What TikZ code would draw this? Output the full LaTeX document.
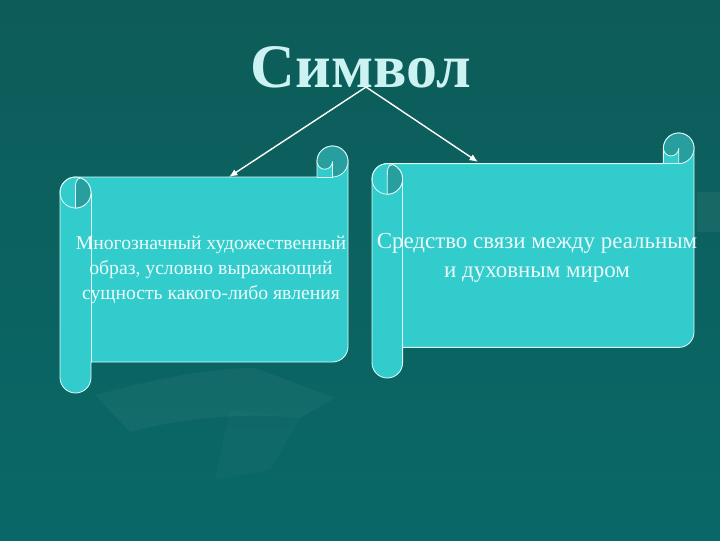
\documentclass[tikz,border=0pt]{standalone}
\usepackage{fontspec}
\setmainfont{Liberation Serif}
\usetikzlibrary{positioning}
\usetikzlibrary{arrows.meta}

\definecolor{slidetop}{RGB}{13,92,89}
\definecolor{slidebottom}{RGB}{9,104,103}
\definecolor{scrollfill}{RGB}{51,204,204}
\definecolor{scrollcurl}{RGB}{40,158,158}
\definecolor{scrollline}{RGB}{222,250,250}
\definecolor{titlecolor}{RGB}{205,242,242}

% scroll in pixel units: #1 left, #2 top, #3 right, #4 bottom, #5 roll width
\newcommand{\drawscroll}[5]{%
  \draw [scrollborder, fill=scrollfill]
    (#1,{#2+1.5*#5}) arc [start angle=180, delta angle=90, radius={#5/2}]
    -- ({#3-#5},{#2+#5}) -- ({#3-#5},{#2+#5/2})
    arc [start angle=180, delta angle=180, radius={#5/2}]
    -- (#3,{#4-1.5*#5})
    arc [start angle=0, delta angle=90, radius={#5/2}]
    -- ({#1+#5},{#4-#5}) -- ({#1+#5},{#4-#5/2})
    arc [start angle=0, delta angle=180, radius={#5/2}]
    -- cycle;
  % right curl
  \draw [scrollborder, fill=scrollcurl] ({#3-#5/2},{#2+#5})
    arc [start angle=90, delta angle=-270, radius={#5/2}]
    arc [start angle=180, delta angle=-180, radius={#5/4}] -- cycle;
  \draw [scrollborder] ({#3-#5},{#2+#5}) -- ({#3-#5/2},{#2+#5});
  % left curl
  \draw [scrollborder] ({#1+#5/2},{#2+1.5*#5}) circle [radius={#5/2}];
  \draw [scrollborder, fill=scrollcurl] ({#1+#5/2},{#2+2*#5})
    arc [start angle=90, delta angle=-160, radius={#5/2}]
    .. controls ({#1+#5/2},{#2+1.05*#5}) and ({#1+#5/2},{#2+1.2*#5}) .. ({#1+#5/2},{#2+1.4*#5})
    -- cycle;
  \draw [scrollborder] ({#1+#5},{#2+1.5*#5}) -- ({#1+#5},{#4-#5});
}

\begin{document}
\begin{tikzpicture}[x=0.025cm, y=-0.025cm, line width=0.6pt,
    scrollborder/.style={draw=scrollline, line width=0.6pt},
    scrolltext/.style={align=center, text=white!90!scrollfill, inner sep=0pt},
    link/.style={draw=white, line width=1pt, -{Latex[length=6pt, width=5pt]}}]
    \useasboundingbox (0,0) rectangle (720,540);

    % Background
    \shade [top color=slidetop, bottom color=slidebottom] (0,0) rectangle (720,540);
    \fill [white, opacity=0.04] (95,395) .. controls (160,378) and (210,368) .. (255,368)
      -- (335,398) -- (300,418) .. controls (250,412) and (180,418) .. (130,432) -- cycle;
    \fill [white, opacity=0.025] (230,410) -- (300,418) -- (270,470) -- (215,480) -- cycle;
    \fill [white, opacity=0.05] (697,192) rectangle (720,232);

    % Scrolls
    \drawscroll{60}{146}{348}{393}{31}
    \drawscroll{372}{133}{694}{378}{30.6}

    % Nodes
    \node (title) [anchor=base, text=titlecolor, font=\fontsize{44}{50}\selectfont\bfseries, inner sep=0pt]
      at (361,87) {Символ};
    \node (meaning) [scrolltext, font=\fontsize{14}{18}\selectfont] at (211,270)
      {Многозначный художественный\\образ, условно выражающий\\сущность какого-либо явления};
    \node (bridge) [scrolltext, font=\fontsize{16.3}{20.5}\selectfont] at (537,258)
      {Средство связи между реальным\\и духовным миром};
    \coordinate (fork) at (366,87);
    \coordinate (meaningtop) at (229,177);
    \coordinate (bridgetop) at (478,162);

    % Lines
    \draw [link] (fork) -- (meaningtop);
    \draw [link] (fork) -- (bridgetop);
\end{tikzpicture}
\end{document}
